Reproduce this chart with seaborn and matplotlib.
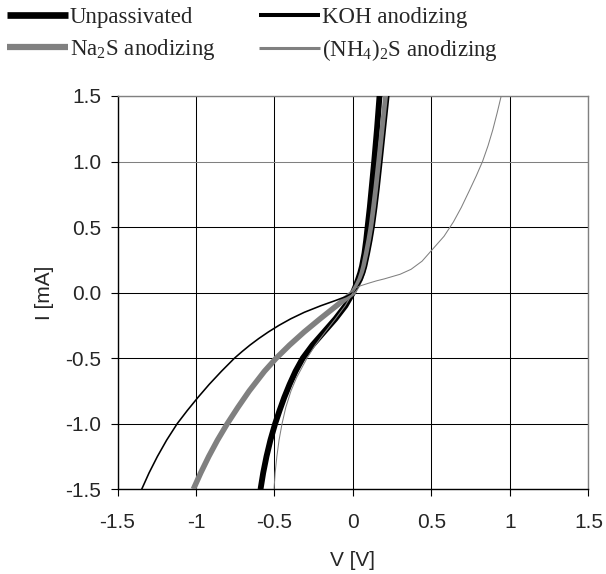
import numpy as np
import pandas as pd
import matplotlib
matplotlib.use('Agg')
import matplotlib.pyplot as plt
import seaborn as sns

# I-V curves (V in volts, I in mA)
unpass_v = [-0.589, -0.572, -0.551, -0.526, -0.496, -0.468, -0.438, -0.404, -0.366, -0.32, -0.258,
            -0.185, -0.112, -0.048, 0.0, 0.017, 0.032, 0.046, 0.057, 0.073, 0.084, 0.093, 0.107,
            0.119, 0.135, 0.153, 0.169]
unpass_i = [-1.5, -1.375, -1.25, -1.125, -1.0, -0.9, -0.8, -0.7, -0.6, -0.5, -0.4,
            -0.3, -0.2, -0.1, 0.0, 0.05, 0.1, 0.15, 0.2, 0.3, 0.4, 0.5, 0.65,
            0.8, 1.0, 1.25, 1.5]

na2s_v = [-1.017, -0.970, -0.919, -0.863, -0.801, -0.733, -0.661, -0.564, -0.489, -0.404, -0.311,
          -0.21, -0.105, 0.0, 0.025, 0.045, 0.059, 0.07, 0.087, 0.103, 0.117, 0.133, 0.148,
          0.166, 0.188, 0.21]
na2s_i = [-1.5, -1.375, -1.25, -1.125, -1.0, -0.875, -0.75, -0.6, -0.5, -0.4, -0.3,
          -0.2, -0.1, 0.0, 0.05, 0.1, 0.15, 0.2, 0.3, 0.4, 0.5, 0.65, 0.8,
          1.0, 1.25, 1.5]

koh_v = [-1.346, -1.299, -1.246, -1.187, -1.12, -1.056, -0.988, -0.916, -0.838, -0.755, -0.707,
         -0.656, -0.60, -0.539, -0.472, -0.397, -0.31, -0.205, -0.111, -0.045, 0.0, 0.035, 0.058,
         0.074, 0.086, 0.104, 0.12, 0.134, 0.151, 0.166, 0.184, 0.206, 0.228]
koh_i = [-1.5, -1.375, -1.25, -1.125, -1.0, -0.9, -0.8, -0.7, -0.6, -0.5, -0.45,
         -0.4, -0.35, -0.3, -0.25, -0.2, -0.15, -0.1, -0.06, -0.03, 0.0, 0.05, 0.1,
         0.15, 0.2, 0.3, 0.4, 0.5, 0.65, 0.8, 1.0, 1.25, 1.5]

nh4s_v = [-0.503, -0.496, -0.485, -0.471, -0.452, -0.428, -0.395, -0.36, -0.293, -0.24, -0.177,
          -0.112, -0.05, 0.0, 0.02, 0.05, 0.1, 0.15, 0.2, 0.3, 0.37, 0.44, 0.51, 0.58, 0.64,
          0.69, 0.74, 0.785, 0.825, 0.86, 0.89, 0.918, 0.944]
nh4s_i = [-1.5, -1.375, -1.25, -1.125, -1.0, -0.875, -0.75, -0.65, -0.5, -0.4, -0.3,
          -0.2, -0.1, 0.0, 0.038, 0.053, 0.072, 0.09, 0.105, 0.14, 0.178, 0.24, 0.335, 0.43, 0.54,
          0.65, 0.775, 0.89, 1.0, 1.12, 1.24, 1.37, 1.5]

names = ['Unpassivated', r'Na$_2$S anodizing', 'KOH anodizing', r'(NH$_4$)$_2$S anodizing']
colors = ['black', '#808080', 'black', '#808080']
widths = [4.2, 4.0, 1.15, 0.75]
legend_widths = [4.8, 4.5, 2.9, 2.2]

frames = []
for name, v, i in zip(names, [unpass_v, na2s_v, koh_v, nh4s_v], [unpass_i, na2s_i, koh_i, nh4s_i]):
    frames.append(pd.DataFrame({'V': v, 'I': i, 'series': name}))
df = pd.concat(frames, ignore_index=True)

sns.set_style('white')
plt.rcParams['font.family'] = ['Liberation Sans', 'DejaVu Sans']
plt.rcParams['mathtext.default'] = 'regular'

fig = plt.figure(figsize=(6.06, 5.74), dpi=100)
ax = fig.add_axes([0.1939, 0.1476, 0.7772, 0.6852])

for k, name in enumerate(names):
    sub = df[df['series'] == name]
    sns.lineplot(data=sub, x='V', y='I', sort=False, estimator=None, color=colors[k],
                 linewidth=widths[k], ax=ax, label=name, zorder=3 + k,
                 solid_joinstyle='round', solid_capstyle='butt')

ax.set_xlim(-1.5, 1.5)
ax.set_ylim(-1.5, 1.5)
xt = [-1.5, -1, -0.5, 0, 0.5, 1, 1.5]
yt = [-1.5, -1.0, -0.5, 0.0, 0.5, 1.0, 1.5]
ax.set_xticks(xt)
ax.set_xticklabels(['-1.5', '-1', '-0.5', '0', '0.5', '1', '1.5'])
ax.set_yticks(yt)
ax.set_yticklabels(['-1.5', '-1.0', '-0.5', '0.0', '0.5', '1.0', '1.5'])
ax.grid(True, color='black', linewidth=0.75)
ax.get_ygridlines()[5].set_color('#808080')
ax.tick_params(axis='both', direction='out', length=4.8, width=0.8, color='black',
               labelsize=15, bottom=True, left=True)
ax.tick_params(axis='x', pad=12)
ax.tick_params(axis='y', pad=7)
for side in ['top', 'right']:
    ax.spines[side].set_color('#808080')
for side in ['left', 'bottom']:
    ax.spines[side].set_color('black')
for s in ax.spines.values():
    s.set_linewidth(1.0)

ax.set_xlabel('V [V]', fontsize=15, labelpad=14)
ax.set_ylabel('I [mA]', fontsize=15, labelpad=8)

handles, labels = ax.get_legend_handles_labels()
ax.legend_.remove()
leg = fig.legend(handles, labels, loc='upper left', bbox_to_anchor=(0.0, 1.0), ncol=2,
                 frameon=False, prop={'family': 'Liberation Serif', 'size': 16.5},
                 handlelength=2.65, handletextpad=0.1, columnspacing=1.9,
                 labelspacing=0.38, borderpad=0.3, borderaxespad=0.0)
for line, lw in zip(leg.get_lines(), legend_widths):
    line.set_linewidth(lw)

fig.savefig('out.png', dpi=100)
